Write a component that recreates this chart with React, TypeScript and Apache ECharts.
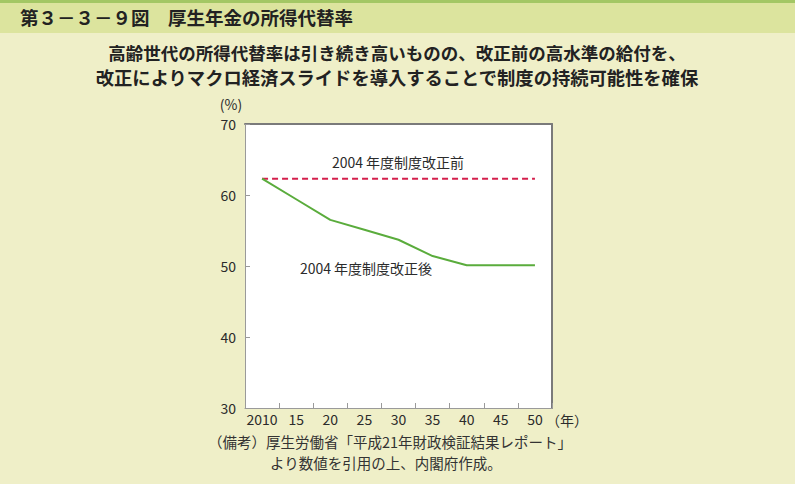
import React, { useEffect, useRef } from "react";
import * as echarts from "echarts";

const categories = ["2010", "15", "20", "25", "30", "35", "40", "45", "50"];
const beforeReform = [62.3, 62.3, 62.3, 62.3, 62.3, 62.3, 62.3, 62.3, 62.3];
const afterReform = [62.3, 59.4, 56.5, 55.1, 53.7, 51.4, 50.1, 50.1, 50.1];
const yTicks = { min: 30, max: 70, interval: 10 };

const heading = "第３－３－９図　厚生年金の所得代替率";
const subtitle1 = "高齢世代の所得代替率は引き続き高いものの、改正前の高水準の給付を、";
const subtitle2 = "改正によりマクロ経済スライドを導入することで制度の持続可能性を確保";
const labelBefore = "2004 年度制度改正前";
const labelAfter = "2004 年度制度改正後";
const note1 = "（備考）厚生労働省「平成21年財政検証結果レポート」";
const note2 = "より数値を引用の上、内閣府作成。";

const FONT = "'Noto Sans CJK JP', 'Noto Sans', sans-serif";
const TXT = "#2b2b2b";

export default function App() {
  const ref = useRef<HTMLDivElement>(null);
  useEffect(() => {
    if (!ref.current) return;
    const chart = echarts.init(ref.current, null, { renderer: "svg" });
    chart.setOption({
      animation: false,
      backgroundColor: "#efefc8",
      textStyle: { fontFamily: FONT },
      grid: { left: 245, right: 243, top: 124, bottom: 76, show: true, backgroundColor: "#ffffff", borderWidth: 0 },
      xAxis: [
        {
          type: "category",
          data: categories,
          boundaryGap: true,
          axisLine: { show: true, lineStyle: { color: "#9a9a9a", width: 1 } },
          axisTick: { show: true, inside: true, length: 5, interval: 0, lineStyle: { color: "#9a9a9a" } },
          axisLabel: { color: TXT, fontSize: 14, margin: 4, interval: 0, fontFamily: FONT },
          splitLine: { show: false },
        },
        {
          type: "category",
          data: categories,
          position: "top",
          axisLine: { show: true, lineStyle: { color: "#7a7a7a", width: 2 } },
          axisTick: { show: false },
          axisLabel: { show: false },
        },
      ],
      yAxis: [
        {
          type: "value",
          min: yTicks.min,
          max: yTicks.max,
          interval: yTicks.interval,
          axisLine: { show: true, lineStyle: { color: "#9a9a9a", width: 1 } },
          axisTick: { show: true, inside: true, length: 5, lineStyle: { color: "#9a9a9a" } },
          axisLabel: { color: TXT, fontSize: 14, margin: 9, fontFamily: FONT },
          splitLine: { show: false },
        },
        {
          type: "value",
          min: yTicks.min,
          max: yTicks.max,
          interval: yTicks.interval,
          position: "right",
          axisLine: { show: true, lineStyle: { color: "#7a7a7a", width: 2 } },
          axisTick: { show: false },
          axisLabel: { show: false },
          splitLine: { show: false },
        },
      ],
      series: [
        {
          type: "line",
          data: beforeReform,
          symbol: "none",
          lineStyle: { color: "#d41f4c", width: 2, type: [6, 4] },
        },
        {
          type: "line",
          data: afterReform,
          symbol: "none",
          lineStyle: { color: "#5aac3c", width: 2 },
        },
      ],
      graphic: [
        { type: "rect", shape: { x: 0, y: 0, width: 795, height: 33 }, style: { fill: "#dce49e" } },
        { type: "rect", shape: { x: 0, y: 0, width: 795, height: 3 }, style: { fill: "#a3c764" } },
        {
          type: "text", x: 20, y: 17,
          style: { text: heading, fill: "#222", font: `bold 18.5px ${FONT}`, verticalAlign: "middle" },
        },
        {
          type: "text", x: 397, y: 52,
          style: { text: subtitle1, font: `bold 17.5px ${FONT}`, fill: "#222", align: "center", verticalAlign: "middle" },
        },
        {
          type: "text", x: 397, y: 76.5,
          style: { text: subtitle2, font: `bold 18.3px ${FONT}`, fill: "#222", align: "center", verticalAlign: "middle" },
        },
        {
          type: "text", x: 231, y: 104,
          style: { text: "(%)", font: `14px ${FONT}`, fill: TXT, align: "center", verticalAlign: "middle" },
        },
        {
          type: "text", x: 546, y: 420,
          style: { text: "（年）", font: `14px ${FONT}`, fill: TXT, align: "left", verticalAlign: "middle" },
        },
        {
          type: "text", x: 398, y: 162,
          style: { text: labelBefore, font: `14px ${FONT}`, fill: TXT, align: "center", verticalAlign: "middle" },
        },
        {
          type: "text", x: 366, y: 268,
          style: { text: labelAfter, font: `14px ${FONT}`, fill: TXT, align: "center", verticalAlign: "middle" },
        },
        {
          type: "text", x: 208, y: 441,
          style: { text: note1, font: `14.5px ${FONT}`, fill: "#333", align: "left", verticalAlign: "middle" },
        },
        {
          type: "text", x: 270, y: 462,
          style: { text: note2, font: `14.5px ${FONT}`, fill: "#333", align: "left", verticalAlign: "middle" },
        },
      ],
    });
    return () => chart.dispose();
  }, []);
  return (
    <div
      ref={ref}
      style={{ position: "fixed", left: 0, top: 0, width: 795, height: 484 }}
    />
  );
}
